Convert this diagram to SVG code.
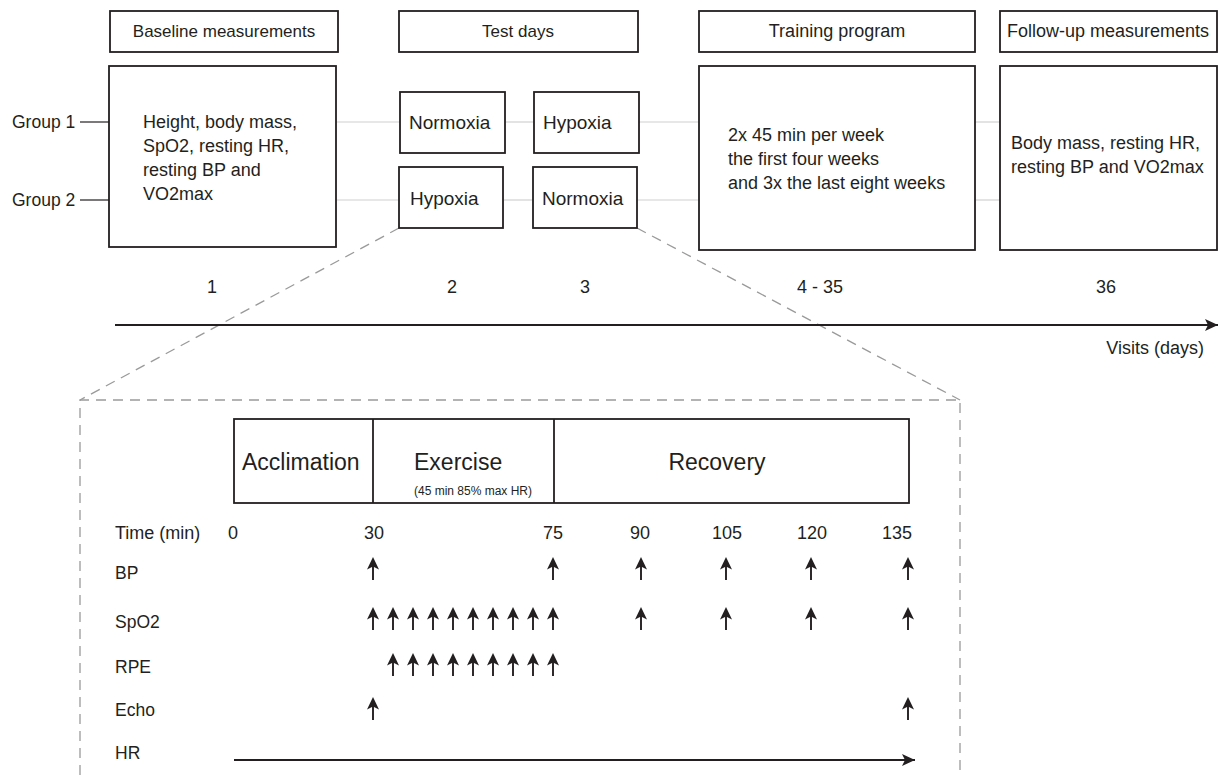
<svg xmlns="http://www.w3.org/2000/svg" xmlns:xlink="http://www.w3.org/1999/xlink" width="1219" height="775" viewBox="0 0 1219 775">
<style>
text{font-family:"Liberation Sans",Arial,sans-serif;fill:#231f20}
.box{fill:#fff;stroke:#231f20;stroke-width:1.8}
.hd{font-size:17px;text-anchor:middle}
.bt{font-size:18px}
.tb{font-size:19px}
.num{font-size:18px;text-anchor:middle}
.lbl{font-size:17.5px}
.ph{font-size:23px}
.grey{stroke:#d0d0d0;stroke-width:1.2;fill:none}
.dash{stroke:#9a9a9a;stroke-width:1.3;stroke-dasharray:10 7;fill:none}
.axis{stroke:#231f20;stroke-width:2;fill:none}
.blk{stroke:#231f20;stroke-width:1.2;fill:none}
</style>
<defs>
<marker id="ah" markerWidth="14" markerHeight="12" refX="13" refY="6" orient="auto" markerUnits="userSpaceOnUse">
<path d="M0,0 L13,6 L0,12 L3,6 Z" fill="#231f20"/>
</marker>
<g id="up">
<line x1="0" y1="8" x2="0" y2="23" stroke="#231f20" stroke-width="1.9"/>
<path d="M0,0 L6,12.5 L0,9.5 L-6,12.5 Z" fill="#231f20"/>
</g>
</defs>
<rect width="1219" height="775" fill="#fff"/>

<g id="connectors">
<line class="blk" x1="80" y1="122" x2="109" y2="122"/>
<line class="blk" x1="80" y1="200" x2="109" y2="200"/>
<line class="grey" x1="336" y1="122" x2="400" y2="122"/>
<line class="grey" x1="505" y1="122" x2="534" y2="122"/>
<line class="grey" x1="639" y1="122" x2="699" y2="122"/>
<line class="grey" x1="975" y1="122" x2="1000" y2="122"/>
<line class="grey" x1="336" y1="200" x2="399" y2="200"/>
<line class="grey" x1="503" y1="200" x2="533" y2="200"/>
<line class="grey" x1="637" y1="200" x2="699" y2="200"/>
<line class="grey" x1="975" y1="200" x2="1000" y2="200"/>
<line class="dash" x1="399" y1="228" x2="80" y2="400"/>
<line class="dash" x1="637" y1="228" x2="960" y2="400"/>
<path class="dash" d="M80,775 V400 H960 V775"/>
<line class="axis" x1="115" y1="325" x2="1218" y2="325" marker-end="url(#ah)"/>
<line class="axis" x1="234" y1="760" x2="915" y2="760" marker-end="url(#ah)"/>
</g>

<g id="group-labels">
<text class="lbl" x="12" y="128">Group 1</text>
<text class="lbl" x="12" y="206">Group 2</text>
</g>

<g id="baseline">
<rect class="box" x="110" y="11" width="228" height="41"/>
<text class="hd" x="224" y="37">Baseline measurements</text>
<rect class="box" x="109" y="66" width="227" height="181"/>
<text class="bt" x="143" y="128">Height, body mass,</text>
<text class="bt" x="143" y="152">SpO2, resting HR,</text>
<text class="bt" x="143" y="176">resting BP and</text>
<text class="bt" x="143" y="200">VO2max</text>
<text class="num" x="212" y="293">1</text>
</g>

<g id="test-days">
<rect class="box" x="399" y="11" width="239" height="41"/>
<text class="hd" x="518" y="37">Test days</text>
</g>
<g id="day2-g1"><rect class="box" x="400" y="92" width="105" height="61"/><text class="tb" x="409" y="129">Normoxia</text></g>
<g id="day3-g1"><rect class="box" x="534" y="92" width="105" height="61"/><text class="tb" x="543" y="129">Hypoxia</text></g>
<g id="day2-g2"><rect class="box" x="399" y="167" width="104" height="61"/><text class="tb" x="410" y="205">Hypoxia</text></g>
<g id="day3-g2"><rect class="box" x="533" y="167" width="104" height="61"/><text class="tb" x="542" y="205">Normoxia</text></g>
<g id="day-numbers">
<text class="num" x="452" y="293">2</text>
<text class="num" x="585" y="293">3</text>
</g>

<g id="training">
<rect class="box" x="699" y="11" width="276" height="41"/>
<text class="hd" x="837" y="37" style="font-size:18px">Training program</text>
<rect class="box" x="699" y="66" width="276" height="184"/>
<text class="bt" x="728" y="141">2x 45 min per week</text>
<text class="bt" x="728" y="165">the first four weeks</text>
<text class="bt" x="728" y="189">and 3x the last eight weeks</text>
<text class="num" x="820" y="293">4 - 35</text>
</g>

<g id="follow-up">
<rect class="box" x="1000" y="11" width="217" height="41"/>
<text class="hd" x="1108" y="37" style="font-size:18px">Follow-up measurements</text>
<rect class="box" x="1000" y="66" width="217" height="184"/>
<text class="bt" x="1011" y="149">Body mass, resting HR,</text>
<text class="bt" x="1011" y="173">resting BP and VO2max</text>
<text class="num" x="1106" y="293">36</text>
</g>

<g id="axis-label">
<text class="lbl" x="1204" y="354" text-anchor="end" style="font-size:18px">Visits (days)</text>
</g>

<g id="phases">
<rect class="box" x="234" y="419" width="675" height="84"/>
<line class="blk" x1="373" y1="419" x2="373" y2="503" style="stroke-width:1.8"/>
<line class="blk" x1="554" y1="419" x2="554" y2="503" style="stroke-width:1.8"/>
<text class="ph" x="242" y="470">Acclimation</text>
<text class="ph" x="414" y="470">Exercise</text>
<text x="414" y="495" style="font-size:12px">(45 min 85% max HR)</text>
<text class="ph" x="717" y="470" text-anchor="middle">Recovery</text>
</g>

<g id="time-row">
<text class="lbl" x="115" y="539" style="font-size:18px">Time (min)</text>
<text class="num" x="233" y="539">0</text>
<text class="num" x="374" y="539">30</text>
<text class="num" x="553" y="539">75</text>
<text class="num" x="640" y="539">90</text>
<text class="num" x="727" y="539">105</text>
<text class="num" x="812" y="539">120</text>
<text class="num" x="897" y="539">135</text>
</g>

<g id="row-labels">
<text class="lbl" x="115" y="579">BP</text>
<text class="lbl" x="115" y="628">SpO2</text>
<text class="lbl" x="115" y="673">RPE</text>
<text class="lbl" x="115" y="716">Echo</text>
<text class="lbl" x="115" y="759">HR</text>
</g>

<g id="bp-arrows">
<use href="#up" x="373" y="557"/><use href="#up" x="553" y="557"/><use href="#up" x="641" y="557"/>
<use href="#up" x="726" y="557"/><use href="#up" x="811" y="557"/><use href="#up" x="908" y="557"/>
</g>
<g id="spo2-arrows">
<use href="#up" x="373" y="607"/><use href="#up" x="393" y="607"/><use href="#up" x="413" y="607"/>
<use href="#up" x="433" y="607"/><use href="#up" x="453" y="607"/><use href="#up" x="473" y="607"/>
<use href="#up" x="493" y="607"/><use href="#up" x="513" y="607"/><use href="#up" x="533" y="607"/>
<use href="#up" x="553" y="607"/><use href="#up" x="641" y="607"/><use href="#up" x="726" y="607"/>
<use href="#up" x="811" y="607"/><use href="#up" x="908" y="607"/>
</g>
<g id="rpe-arrows">
<use href="#up" x="393" y="653"/><use href="#up" x="413" y="653"/><use href="#up" x="433" y="653"/>
<use href="#up" x="453" y="653"/><use href="#up" x="473" y="653"/><use href="#up" x="493" y="653"/>
<use href="#up" x="513" y="653"/><use href="#up" x="533" y="653"/><use href="#up" x="553" y="653"/>
</g>
<g id="echo-arrows">
<use href="#up" x="373" y="697"/><use href="#up" x="908" y="697"/>
</g>
</svg>
